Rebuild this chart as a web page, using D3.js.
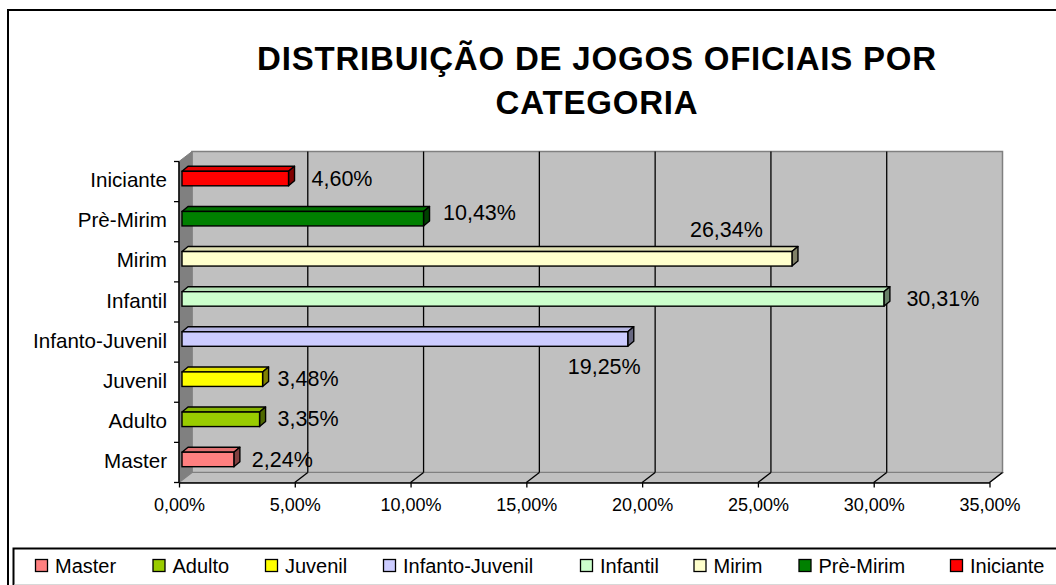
<!DOCTYPE html>
<html>
<head>
<meta charset="utf-8">
<script src="https://cdn.jsdelivr.net/npm/d3@7"></script>
<style>
  html, body { margin: 0; padding: 0; background: #fff; }
  svg { display: block; font-family: "Liberation Sans", Arial, sans-serif; }
</style>
</head>
<body>
<svg id="chart" width="1056" height="585"></svg>
<script>
// Share of official matches by category (percent)
const categories = ["Master", "Adulto", "Juvenil", "Infanto-Juvenil", "Infantil", "Mirim", "Prè-Mirim", "Iniciante"];
const values = [2.24, 3.35, 3.48, 19.25, 30.31, 26.34, 10.43, 4.60];
const colors = ["#FF8080", "#99CC00", "#FFFF00", "#CCCCFF", "#CCFFCC", "#FFFFCC", "#008000", "#FF0000"];
const tickValues = [0, 5, 10, 15, 20, 25, 30, 35];
const titleLines = ["DISTRIBUIÇÃO DE JOGOS OFICIAIS POR", "CATEGORIA"];

// Data-label placement relative to each bar's end (dx, dy in px)
const labelOffsets = [[18, 0], [18, -1.5], [15, -0.5], [-60, 27.5], [22.5, -1], [-102, -30], [19.5, -6.5], [23, 0]];
// Legend swatch positions
const legendX = [35, 152.5, 265, 383, 580, 693.5, 798.5, 950];

const locale = d3.formatLocale({ decimal: ",", thousands: ".", grouping: [3], currency: ["R$", ""] });
const pct = v => locale.format(".2f")(v) + "%";

const svg = d3.select("#chart");

// Outer chart frame
svg.append("rect").attr("x", 8).attr("y", 10).attr("width", 1080).attr("height", 600)
  .attr("fill", "#fff").attr("stroke", "#000").attr("stroke-width", 2);

// Title
svg.append("g").selectAll("text").data(titleLines).join("text")
  .attr("x", 597).attr("y", (d, i) => 70 + i * 43.5)
  .attr("text-anchor", "middle")
  .attr("font-size", 33).attr("font-weight", "bold")
  .attr("letter-spacing", 0.8)
  .text(d => d);

// Scales
const x = d3.scaleLinear().domain([0, 35]).range([179, 989.5]);
const y = d3.scaleBand().domain(categories.slice().reverse()).range([161.5, 482.5]);
const DX = 13, DY = -10;           // plot depth
const BDX = 6, BDY = -5;           // bar depth
const BOFF_X = 3, BOFF_Y = -3;     // bar front offset into the plot depth
const barH = 14.5;

const y0 = y.range()[0], y1 = y.range()[1];
const xL = x(0), xR = x(35);

// Back wall
svg.append("rect")
  .attr("x", xL + DX).attr("y", y0 + DY)
  .attr("width", xR - xL).attr("height", y1 - y0)
  .attr("fill", "#C0C0C0").attr("stroke", "#808080").attr("stroke-width", 1.5);

// Left side wall
svg.append("polygon")
  .attr("points", [[xL, y0], [xL + DX, y0 + DY], [xL + DX, y1 + DY], [xL, y1]].join(" "))
  .attr("fill", "#808080").attr("stroke", "#808080").attr("stroke-width", 1);

// Floor
svg.append("polygon")
  .attr("points", [[xL, y1], [xL + DX, y1 + DY], [xR + DX, y1 + DY], [xR, y1]].join(" "))
  .attr("fill", "#C0C0C0").attr("stroke", "#808080").attr("stroke-width", 1.2);

// Gridlines on back wall and floor
const grid = svg.append("g").attr("stroke", "#000").attr("stroke-width", 1.3);
tickValues.filter(t => t > 0 && t < 35).forEach(t => {
  grid.append("line")
    .attr("x1", x(t) + DX).attr("x2", x(t) + DX)
    .attr("y1", y0 + DY).attr("y2", y1 + DY);
});
tickValues.filter(t => t > 0).forEach(t => {
  grid.append("line")
    .attr("x1", x(t)).attr("y1", y1)
    .attr("x2", x(t) + DX).attr("y2", y1 + DY);
});

// Bottom axis
const xAxis = d3.axisBottom(x).tickValues(tickValues).tickFormat(pct)
  .tickSizeInner(5).tickSizeOuter(0).tickPadding(11);
const gx = svg.append("g").attr("transform", `translate(0,${y1})`).call(xAxis);
gx.select(".domain").attr("stroke", "#000").attr("stroke-width", 1.5);
gx.selectAll(".tick line").attr("stroke", "#000").attr("stroke-width", 1.3);
gx.selectAll(".tick text").attr("font-size", 18).attr("fill", "#000")
  .attr("font-family", "Liberation Sans, Arial, sans-serif");

// Left axis: labels at band centres, tick marks at band edges
const yAxis = d3.axisLeft(y).tickSize(0).tickPadding(12);
const gy = svg.append("g").attr("transform", `translate(${xL},-1)`).call(yAxis);
gy.select(".domain").remove();
gy.selectAll(".tick text").attr("font-size", 20.6).attr("fill", "#000")
  .attr("font-family", "Liberation Sans, Arial, sans-serif");

svg.append("line").attr("x1", xL).attr("x2", xL).attr("y1", y0).attr("y2", y1)
  .attr("stroke", "#000").attr("stroke-width", 1.5);
const edges = y.domain().map(c => y(c)).concat([y1]);
svg.append("g").selectAll("line").data(edges).join("line")
  .attr("x1", xL - 5).attr("x2", xL).attr("y1", d => d).attr("y2", d => d)
  .attr("stroke", "#000").attr("stroke-width", 1.3);

// Bars (front, top and side faces)
const bars = svg.append("g").selectAll("g").data(categories).join("g");
bars.each(function (c, i) {
  const g = d3.select(this);
  const col = d3.color(colors[i]);
  const bx0 = x(0) + BOFF_X, bx1 = x(values[i]) + BOFF_X;
  const cy = y(c) + y.bandwidth() / 2 + BOFF_Y;
  const top = cy - barH / 2, bot = cy + barH / 2;
  const sw = 1.4;
  g.append("polygon")
    .attr("points", [[bx0, top], [bx0 + BDX, top + BDY], [bx1 + BDX, top + BDY], [bx1, top]].join(" "))
    .attr("fill", col.darker(0.35)).attr("stroke", "#000").attr("stroke-width", sw).attr("stroke-linejoin", "round");
  g.append("polygon")
    .attr("points", [[bx1, top], [bx1 + BDX, top + BDY], [bx1 + BDX, bot + BDY], [bx1, bot]].join(" "))
    .attr("fill", col.darker(1.9)).attr("stroke", "#000").attr("stroke-width", sw).attr("stroke-linejoin", "round");
  g.append("rect")
    .attr("x", bx0).attr("y", top).attr("width", bx1 - bx0).attr("height", barH)
    .attr("fill", col).attr("stroke", "#000").attr("stroke-width", sw);
});

// Data labels
svg.append("g").selectAll("text").data(categories).join("text")
  .attr("x", (c, i) => x(values[i]) + BOFF_X + labelOffsets[i][0])
  .attr("y", (c, i) => y(c) + y.bandwidth() / 2 + BOFF_Y + labelOffsets[i][1] + 7.7)
  .attr("font-size", 21.5).attr("fill", "#000")
  .text((c, i) => pct(values[i]));

// Legend
svg.append("rect").attr("x", 13.5).attr("y", 548.5).attr("width", 1100).attr("height", 50)
  .attr("fill", "#fff").attr("stroke", "#000").attr("stroke-width", 2);
svg.append("line").attr("x1", 14.5).attr("x2", 1056).attr("y1", 584.5).attr("y2", 584.5)
  .attr("stroke", "#d8d8d8").attr("stroke-width", 1);
const leg = svg.append("g").selectAll("g").data(categories).join("g")
  .attr("transform", (c, i) => `translate(${legendX[i]},559)`);
leg.append("rect").attr("x", 0.5).attr("y", 0.5).attr("width", 12).attr("height", 12)
  .attr("fill", (c, i) => colors[i]).attr("stroke", "#000").attr("stroke-width", 1.3);
leg.append("text").attr("x", 20).attr("y", 13.5).attr("font-size", 20).attr("fill", "#000")
  .text(c => c);
</script>
</body>
</html>
